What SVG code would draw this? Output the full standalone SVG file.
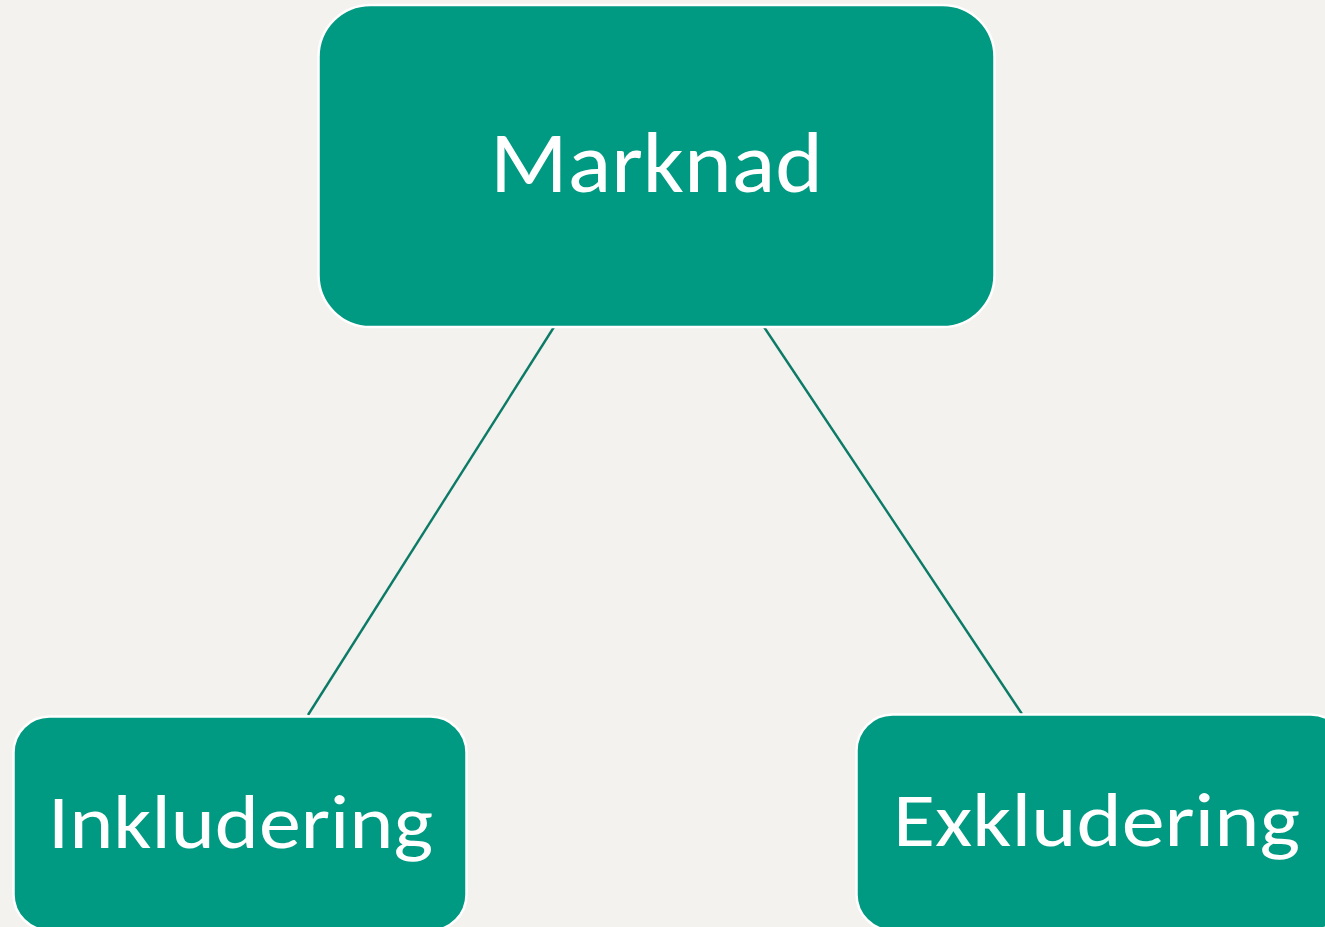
<svg xmlns="http://www.w3.org/2000/svg" width="1325" height="927" viewBox="0 0 1325 927">
<style>
.node{fill:#009982;stroke:#ffffff;stroke-width:2.5}
.lbl{fill:#ffffff;font-family:Carlito,Lato,"Open Sans",sans-serif;}
.conn{stroke:#0b7a66;stroke-width:2.4;fill:none}
</style>
<rect width="1325" height="927" fill="#f3f2ee"/>
<g id="connectors">
<line class="conn" x1="554" y1="327" x2="308" y2="715"/>
<line class="conn" x1="764" y1="327" x2="1022" y2="714"/>
</g>
<g id="node-marknad">
<rect class="node" x="318.5" y="5" width="676" height="322" rx="52"/>
<text class="lbl" x="490" y="192" font-size="86" textLength="333" lengthAdjust="spacingAndGlyphs">Marknad</text>
</g>
<g id="node-inkludering">
<rect class="node" x="13.5" y="716.5" width="453" height="214" rx="36"/>
<text class="lbl" x="48" y="848" font-size="76" textLength="385" lengthAdjust="spacingAndGlyphs">Inkludering</text>
</g>
<g id="node-exkludering">
<rect class="node" x="856.5" y="714.5" width="490" height="216" rx="36"/>
<text class="lbl" x="893" y="846" font-size="76" textLength="407" lengthAdjust="spacingAndGlyphs">Exkludering</text>
</g>
</svg>
